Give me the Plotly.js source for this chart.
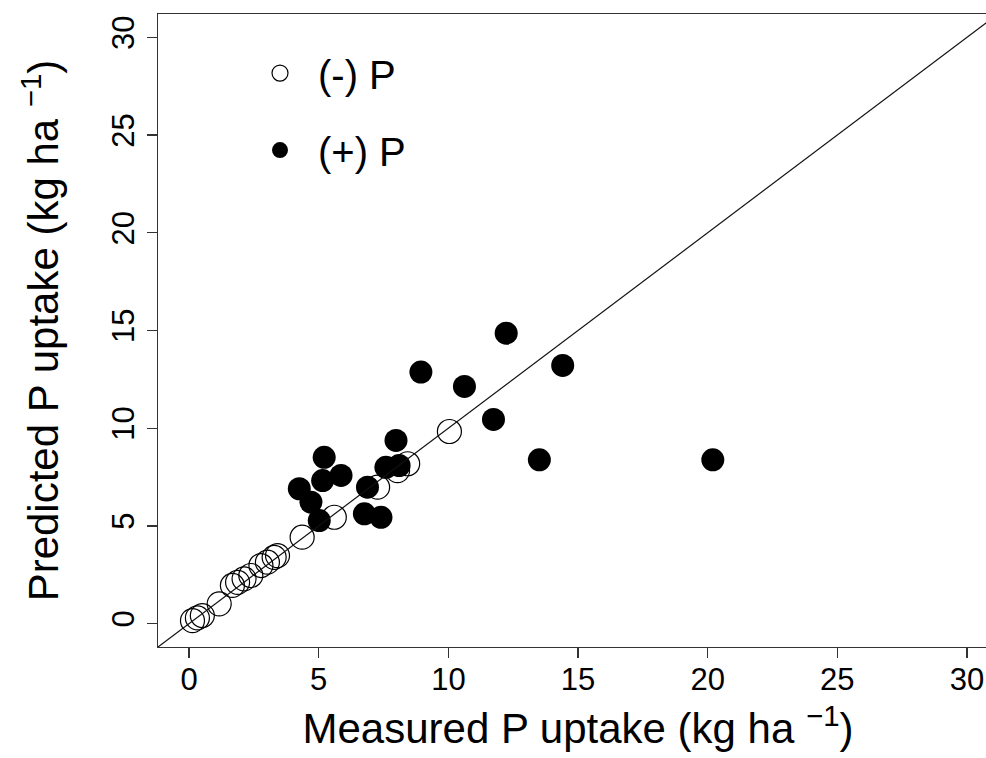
<!DOCTYPE html>
<html>
<head>
<meta charset="utf-8">
<script src="https://cdn.plot.ly/plotly-3.0.1.min.js"></script>
<style>
html, body { margin: 0; padding: 0; overflow: hidden; background: #fff; }
#chart { width: 1000px; height: 758px; }
</style>
</head>
<body>
<div id="chart"></div>
<script>
// (-) P : measured vs predicted
var minusX = [0.13, 0.32, 0.51, 1.16, 1.67, 1.87, 2.12, 2.38, 2.77, 3.02, 3.28, 3.41, 4.36, 5.6, 7.27, 8.04, 8.43, 10.04];
var minusY = [0.15, 0.29, 0.41, 1.01, 1.95, 2.11, 2.29, 2.46, 2.97, 3.14, 3.39, 3.48, 4.42, 5.44, 6.98, 7.83, 8.18, 9.83];
// (+) P : measured vs predicted
var plusX = [4.25, 4.7, 5.21, 5.15, 5.02, 5.86, 6.88, 6.76, 7.4, 7.59, 7.98, 8.1, 8.94, 10.62, 11.74, 12.23, 13.51, 14.41, 20.2];
var plusY = [6.9, 6.21, 8.51, 7.32, 5.27, 7.58, 6.98, 5.62, 5.44, 8.0, 9.37, 8.09, 12.87, 12.14, 10.45, 14.86, 8.38, 13.21, 8.38];
// 1:1 line end values
var oneToOne = [-5, 40];
var tickValues = [0, 5, 10, 15, 20, 25, 30];
var tickLabels = ["0", "5", "10", "15", "20", "25", "30"];
var seriesNames = ["(-) P", "(+) P"];

var FONT = "Liberation Sans, Arial, Helvetica, sans-serif";

var traces = [
  {
    x: minusX, y: minusY, type: "scatter", mode: "markers", name: seriesNames[0],
    legendgroup: "a", cliponaxis: true,
    marker: { symbol: "circle-open", size: 24, color: "#000", line: { width: 1.2, color: "#000" } }
  },
  {
    x: plusX, y: plusY, type: "scatter", mode: "markers", name: seriesNames[1],
    legendgroup: "b", cliponaxis: true,
    marker: { symbol: "circle", size: 23, color: "#000" }
  },
  {
    x: oneToOne, y: oneToOne, type: "scatter", mode: "lines", showlegend: false,
    line: { color: "#111", width: 1.2 }, hoverinfo: "skip"
  }
];

var axisCommon = {
  range: [-1.2, 31.2],
  tickmode: "array",
  tickvals: tickValues,
  ticktext: tickLabels,
  showgrid: false,
  zeroline: false,
  showline: true,
  mirror: true,
  linecolor: "#333",
  linewidth: 1.3,
  ticks: "outside",
  ticklen: 10,
  tickwidth: 1.3,
  tickcolor: "#333",
  tickfont: { family: FONT, size: 31, color: "#000" },
  automargin: false
};

var layout = {
  width: 1000,
  height: 758,
  margin: { l: 158, r: 2, t: 14, b: 111 },
  paper_bgcolor: "#fff",
  plot_bgcolor: "#fff",
  font: { family: FONT, color: "#000" },
  xaxis: Object.assign({}, axisCommon, {
    ticklabelstandoff: -6,
    title: { text: "Measured P uptake (kg ha <sup>\u22121</sup>)", font: { family: FONT, size: 42, color: "#000" }, standoff: 18 }
  }),
  yaxis: Object.assign({}, axisCommon, {
    tickangle: -90,
    title: { text: "Predicted P uptake (kg ha <sup>\u22121</sup>)", font: { family: FONT, size: 42, color: "#000" }, standoff: 34 }
  }),
  showlegend: true,
  legend: {
    x: 0.1, y: 0.958, xanchor: "left", yanchor: "top",
    bgcolor: "rgba(0,0,0,0)", borderwidth: 0,
    font: { family: FONT, size: 40, color: "#000" },
    itemwidth: 66,
    tracegroupgap: 22,
    traceorder: "grouped"
  }
};

Plotly.newPlot("chart", traces, layout, { displayModeBar: false, staticPlot: true });
</script>
</body>
</html>
